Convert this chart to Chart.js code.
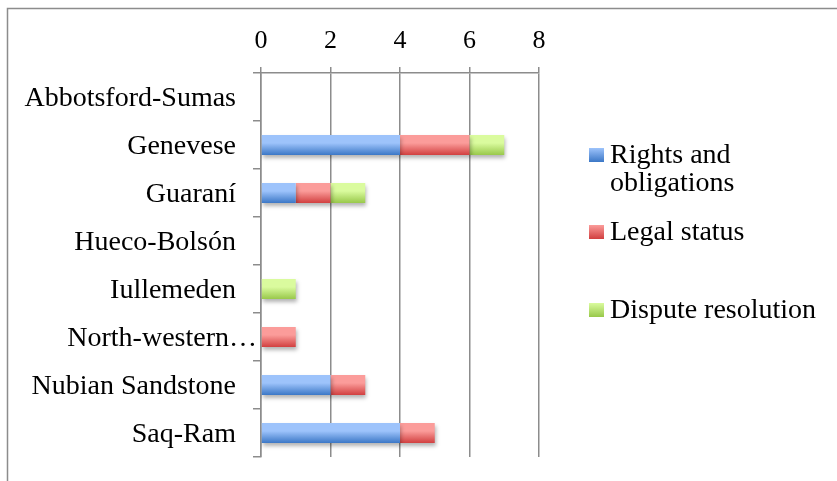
<!DOCTYPE html>
<html>
<head>
<meta charset="utf-8">
<title>Aquifer agreements</title>
<script src="https://cdn.jsdelivr.net/npm/chart.js@4.4.1/dist/chart.umd.min.js"></script>
<style>
  html, body { margin: 0; padding: 0; background: #fff; }
  #wrap { position: relative; width: 837px; height: 481px; }
</style>
</head>
<body>
<div id="wrap"><canvas id="chart" width="837" height="481"></canvas></div>
<script>
// Data
const categories = ['Abbotsford-Sumas', 'Genevese', 'Guaraní', 'Hueco-Bolsón', 'Iullemeden', 'North-western…', 'Nubian Sandstone', 'Saq-Ram'];
const rightsAndObligations = [0, 4, 1, 0, 0, 0, 2, 4];
const legalStatus = [0, 2, 1, 0, 0, 1, 1, 1];
const disputeResolution = [0, 1, 1, 0, 1, 0, 0, 0];
const xTicks = [0, 2, 4, 6, 8];

const FONT = "'Liberation Serif', serif";
const BAR_PCT = 0.42;

// vertical gradient for each bar, light on top, dark at the bottom
function barGradient(top, bottom) {
    return function(ctx) {
        const chart = ctx.chart;
        const y = chart.scales && chart.scales.y;
        if (!y || ctx.dataIndex === undefined) return bottom;
        const c = y.getPixelForValue(ctx.dataIndex);
        const half = y.height / categories.length * BAR_PCT / 2;
        if (!isFinite(c) || !isFinite(half) || half <= 0) return bottom;
        const g = chart.ctx.createLinearGradient(0, c - half, 0, c + half);
        g.addColorStop(0, top);
        g.addColorStop(0.4, top);
        g.addColorStop(1, bottom);
        return g;
    };
}

const colours = [
    ['#9dc3fb', '#3b77c6'],
    ['#fb9c9a', '#d13f3f'],
    ['#dafb9e', '#98c84a']
];

// frame around the whole chart
const framePlugin = {
    id: 'frame',
    beforeDraw(chart) {
        const ctx = chart.ctx;
        ctx.save();
        ctx.strokeStyle = '#8c8c8c';
        ctx.lineWidth = 1.5;
        ctx.strokeRect(7.5, 8.5, 900, 600);
        ctx.restore();
    }
};

// soft shadow under the bars
const shadowPlugin = {
    id: 'barShadow',
    beforeDatasetsDraw(chart) {
        const ctx = chart.ctx;
        ctx.save();
        ctx.shadowColor = 'rgba(0,0,0,0.3)';
        ctx.shadowBlur = 4;
        ctx.shadowOffsetX = 1;
        ctx.shadowOffsetY = 3;
    },
    afterDatasetsDraw(chart) {
        chart.ctx.restore();
    }
};

// legend on the right, with wrapped labels
const sideLegend = {
    id: 'sideLegend',
    afterDraw(chart) {
        const ctx = chart.ctx;
        const x = 589, textX = 610, maxW = 215, lineH = 28;
        const centres = [155, 232, 310];
        ctx.save();
        ctx.font = '28px ' + FONT;
        ctx.textBaseline = 'middle';
        chart.data.datasets.forEach(function(ds, i) {
            const cy = centres[i];
            const g = ctx.createLinearGradient(0, cy - 7, 0, cy + 7);
            g.addColorStop(0, colours[i][0]);
            g.addColorStop(1, colours[i][1]);
            ctx.fillStyle = g;
            ctx.fillRect(x, cy - 7, 15, 14);
            // wrap words
            const words = ds.label.split(' ');
            const lines = [];
            let line = '';
            words.forEach(function(w) {
                const test = line ? line + ' ' + w : w;
                if (ctx.measureText(test).width > maxW && line) {
                    lines.push(line);
                    line = w;
                } else {
                    line = test;
                }
            });
            lines.push(line);
            ctx.fillStyle = '#000';
            lines.forEach(function(l, k) {
                ctx.fillText(l, textX, cy + 1 + k * lineH);
            });
        });
        ctx.restore();
    }
};

const ctx = document.getElementById('chart').getContext('2d');
const chart = new Chart(ctx, {
    type: 'bar',
    data: {
        labels: categories,
        datasets: [
            { label: 'Rights and obligations', data: rightsAndObligations, backgroundColor: barGradient(colours[0][0], colours[0][1]) },
            { label: 'Legal status', data: legalStatus, backgroundColor: barGradient(colours[1][0], colours[1][1]) },
            { label: 'Dispute resolution', data: disputeResolution, backgroundColor: barGradient(colours[2][0], colours[2][1]) }
        ]
    },
    options: {
        indexAxis: 'y',
        responsive: false,
        animation: false,
        layout: {
            padding: { left: 0, right: 298, top: 0, bottom: 24 }
        },
        datasets: {
            bar: {
                categoryPercentage: 1,
                barPercentage: BAR_PCT,
                borderWidth: 0
            }
        },
        plugins: {
            legend: { display: false },
            tooltip: { enabled: false }
        },
        scales: {
            x: {
                position: 'top',
                stacked: true,
                min: 0,
                max: 8,
                afterBuildTicks: function(scale) {
                    scale.ticks = xTicks.map(function(v) { return { value: v }; });
                },
                afterFit: function(scale) { scale.height = 73; },
                grid: {
                    color: '#8c8c8c',
                    lineWidth: 1.5,
                    tickLength: 6
                },
                border: { display: true, color: '#8c8c8c', width: 1.5 },
                ticks: {
                    padding: 10,
                    color: '#000',
                    font: { family: FONT, size: 26 }
                }
            },
            y: {
                stacked: true,
                afterFit: function(scale) { scale.width = 261; },
                grid: {
                    offset: true,
                    drawOnChartArea: false,
                    color: '#8c8c8c',
                    lineWidth: 1.5,
                    tickLength: 8
                },
                border: { display: true, color: '#8c8c8c', width: 1.5 },
                ticks: {
                    padding: -4,
                    labelOffset: 2,
                    color: '#000',
                    font: { family: FONT, size: 28 },
                    callback: function(value) {
                        const label = this.getLabelForValue(value);
                        return label.endsWith('…') ? label : label + '   ';
                    }
                }
            }
        }
    },
    plugins: [framePlugin, shadowPlugin, sideLegend]
});
</script>
</body>
</html>
